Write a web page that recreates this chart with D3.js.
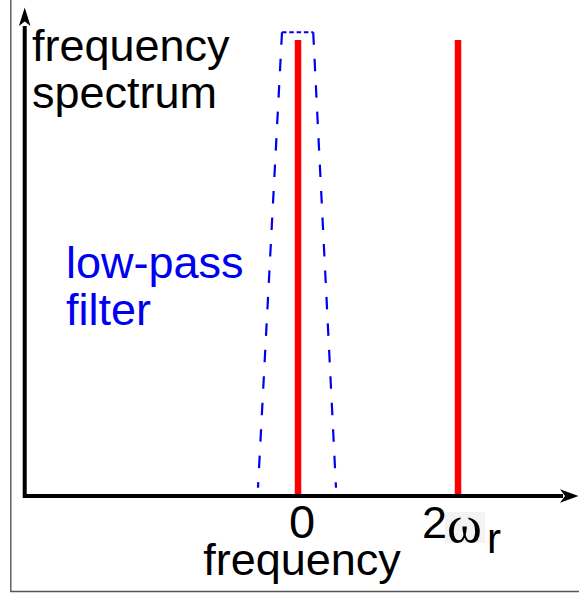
<!DOCTYPE html>
<html>
<head>
<meta charset="utf-8">
<script src="https://cdn.jsdelivr.net/npm/d3@7"></script>
<style>
  html, body { margin: 0; padding: 0; background: #fff; }
  svg { display: block; }
</style>
</head>
<body>
<svg id="chart" width="579" height="596"></svg>
<script>
// ---- data ----
const lineFreqs = [0, 2];              // spectral lines, in units of omega_r
const lineAmps = [1, 1];               // relative amplitudes
const tickValues = [0, 2];
const tickLabels = ["0", "2ω_r"];
const filterX = [-0.5, -0.2, 0.19, 0.475];   // low-pass filter trapezoid corners
const filterY = [0.018, 1.017, 1.017, 0.018];
const yLabelLines = ["frequency", "spectrum"];
const filterLabelLines = ["low-pass", "filter"];
const xLabel = "frequency";

// ---- scales ----
const svg = d3.select("#chart");
const x = d3.scaleLinear().domain([-3.5, 3.5]).range([18, 578]);
const y = d3.scaleLinear().domain([0, 1]).range([496, 40]);
const axisX0 = x(-3.416);
const axisY0 = y(0);

// frame (left and bottom)
svg.append("path")
  .attr("d", `M10.8,0 V591.5 H579`)
  .attr("fill", "none").attr("stroke", "#555").attr("stroke-width", 1.4);

// low-pass filter (dashed trapezoid)
const fp = filterX.map((v, i) => [x(v), y(filterY[i])]);
const blue = "#0000f0";
svg.append("path")
  .attr("d", d3.line()([fp[1], fp[0]]))
  .attr("fill", "none").attr("stroke", blue).attr("stroke-width", 2.2)
  .attr("stroke-dasharray", "12.5,14");
svg.append("path")
  .attr("d", d3.line()([fp[2], fp[3]]))
  .attr("fill", "none").attr("stroke", blue).attr("stroke-width", 2.2)
  .attr("stroke-dasharray", "12.5,14");
svg.append("path")
  .attr("d", d3.line()([fp[1], fp[2]]))
  .attr("fill", "none").attr("stroke", blue).attr("stroke-width", 2.2)
  .attr("stroke-dasharray", "4.5,2.8");

// spectral lines
svg.selectAll("line.spec").data(lineFreqs).enter().append("line")
  .attr("class", "spec")
  .attr("x1", d => x(d)).attr("x2", d => x(d))
  .attr("y1", axisY0).attr("y2", (d, i) => y(lineAmps[i]))
  .attr("stroke", "#ff0000").attr("stroke-width", 6.5);

// axes
svg.append("path")
  .attr("d", `M${axisX0},26 V${axisY0} H563`)
  .attr("fill", "none").attr("stroke", "#000").attr("stroke-width", 4)
  .attr("stroke-linejoin", "miter");
// arrowheads
svg.append("path")
  .attr("d", `M578.5,${axisY0} L560,${axisY0 - 6.8} L565,${axisY0} L560,${axisY0 + 6.8} Z`)
  .attr("fill", "#000");
svg.append("path")
  .attr("d", `M${axisX0},7.5 L${axisX0 - 5.8},26 L${axisX0},21.5 L${axisX0 + 5.8},26 Z`)
  .attr("fill", "#000");

const font = "'Liberation Sans', Arial, sans-serif";

// y label
svg.append("text")
  .attr("font-family", font).attr("font-size", 45).attr("fill", "#000")
  .selectAll("tspan").data(yLabelLines).enter().append("tspan")
  .attr("x", 32).attr("y", (d, i) => 61 + i * 47).text(d => d);

// filter label
svg.append("text")
  .attr("font-family", font).attr("font-size", 45).attr("fill", blue)
  .selectAll("tspan").data(filterLabelLines).enter().append("tspan")
  .attr("x", 66).attr("y", (d, i) => 278 + i * 47).text(d => d);

// tick labels
tickValues.forEach((v, i) => {
  const lab = tickLabels[i];
  const cx = x(v);
  if (lab.indexOf("ω") < 0) {
    svg.append("text")
      .attr("x", cx + 4).attr("y", 537.5)
      .attr("text-anchor", "middle")
      .attr("font-family", font).attr("font-size", 47).attr("fill", "#000")
      .text(lab);
  } else {
    const g = svg.append("g").attr("transform", `translate(${cx},0)`);
    g.append("rect").attr("x", -13).attr("y", 512).attr("width", 40).attr("height", 31)
      .attr("fill", "#f3f3f3");
    g.append("text")
      .attr("x", -36).attr("y", 538)
      .attr("font-family", font).attr("font-size", 45).attr("fill", "#000")
      .text(lab.split("ω")[0]);
    g.append("text")
      .attr("x", -11).attr("y", 542)
      .attr("font-family", "'Liberation Serif', 'Times New Roman', serif")
      .attr("font-size", 53).attr("fill", "#000")
      .text("ω");
    g.append("text")
      .attr("x", 29).attr("y", 553)
      .attr("font-family", font).attr("font-size", 42).attr("fill", "#000")
      .text(lab.split("_")[1]);
  }
});

// x label
svg.append("text")
  .attr("x", 302).attr("y", 575).attr("text-anchor", "middle")
  .attr("font-family", font).attr("font-size", 45).attr("fill", "#000")
  .text(xLabel);
</script>
</body>
</html>
